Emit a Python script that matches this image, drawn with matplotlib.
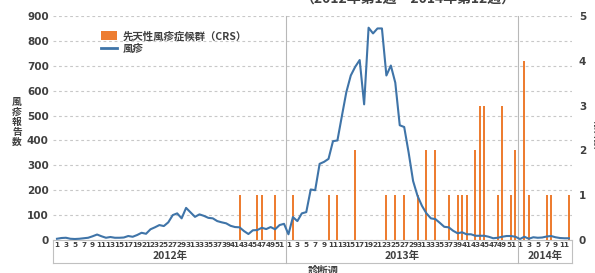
import matplotlib
matplotlib.use("Agg")
import matplotlib.pyplot as plt
from matplotlib.patches import Patch
from matplotlib.lines import Line2D

plt.rcParams['font.family'] = ['Noto Sans CJK JP', 'DejaVu Sans']

# weekly data: 2012 w1-52, 2013 w1-52, 2014 w1-12
weeks_per_year = [52, 52, 12]
year_labels = ['2012年', '2013年', '2014年']

rubella = [
    # 2012
    5, 8, 9, 5, 4, 5, 7, 9, 15, 22, 15, 9, 12, 9, 9, 10, 16, 13, 20, 29,
    25, 43, 51, 60, 56, 71, 100, 107, 87, 129, 111, 93, 103, 97, 89, 87, 76, 71, 67, 57,
    52, 51, 36, 24, 39, 40, 49, 44, 52, 43, 60, 65,
    # 2013
    23, 92, 76, 107, 112, 203, 200, 306, 314, 326, 397, 400, 498, 594, 661, 696, 723, 545, 853, 830,
    850, 850, 661, 701, 632, 461, 454, 351, 237, 177, 137, 107, 87, 84, 69, 53, 51, 37, 27, 31,
    23, 23, 17, 17, 17, 13, 7, 9, 13, 16, 16, 13,
    # 2014
    4, 13, 5, 11, 9, 10, 14, 16, 11, 8, 7, 7,
]

# CRS reports: (year, week, count)
crs_year = [2012, 2012, 2012, 2012,
            2013, 2013, 2013, 2013, 2013, 2013, 2013, 2013, 2013, 2013, 2013,
            2013, 2013, 2013, 2013, 2013, 2013, 2013, 2013, 2013, 2013,
            2014, 2014, 2014, 2014, 2014]
crs_week = [42, 46, 47, 50,
            2, 10, 12, 16, 23, 25, 27, 30, 32, 34, 37,
            39, 40, 41, 43, 44, 45, 48, 49, 51, 52,
            2, 3, 7, 8, 12]
crs_count = [1, 1, 1, 1,
             1, 1, 1, 2, 1, 1, 1, 1, 2, 2, 1,
             1, 1, 1, 2, 3, 3, 1, 3, 1, 2,
             4, 1, 1, 1, 1]

year_start = {2012: 0, 2013: 52, 2014: 104}
x_line = list(range(len(rubella)))
x_crs = [year_start[y] + w - 1 for y, w in zip(crs_year, crs_week)]

tick_pos = []
tick_lab = []
offset = 0
for n in weeks_per_year:
    for w in range(1, n + 1, 2):
        tick_pos.append(offset + w - 1)
        tick_lab.append(str(w))
    offset += n

text_col = '#404040'
num_font = {'family': 'DejaVu Sans', 'weight': 'bold'}

fig = plt.figure(figsize=(5.95, 2.73), dpi=100)
ax = fig.add_axes([53 / 595, 33 / 273, 519 / 595, 224 / 273])
ax2 = ax.twinx()
ax3 = ax.twinx()

xmin, xmax = -0.9, 115.7
for a in (ax, ax2, ax3):
    a.set_xlim(xmin, xmax)
    for s in a.spines.values():
        s.set_visible(False)
ax.patch.set_visible(False)

# left axis + grid
ax.set_ylim(0, 900)
ax.set_yticks(range(0, 901, 100))
ax.set_yticklabels([str(v) for v in range(0, 901, 100)], fontdict=num_font, fontsize=7.5, color=text_col)
ax.tick_params(axis='y', length=0, pad=3)
ax.yaxis.grid(True, linestyle=(0, (2.5, 2.5)), color='#c8c8c8', linewidth=0.8)
ax.set_axisbelow(True)
ax.spines['bottom'].set_visible(True)
ax.spines['bottom'].set_color('#c0c0c0')
ax.spines['bottom'].set_linewidth(0.8)

ax.set_xticks(tick_pos)
ax.set_xticklabels(tick_lab, fontdict=num_font, fontsize=5.2, color=text_col)
ax.tick_params(axis='x', length=0, pad=1.2)

# CRS bars on right axis
ax2.bar(x_crs, crs_count, width=0.45, color='#ED7D31', zorder=2)
ax2.set_ylim(0, 5)
ax2.set_yticks(range(0, 6))
ax2.set_yticklabels([str(v) for v in range(0, 6)], fontdict=num_font, fontsize=7.5, color=text_col)
ax2.tick_params(axis='y', length=0, pad=5)

# rubella line
ax3.plot(x_line, rubella, color='#3f74a8', linewidth=1.5, zorder=3)
ax3.set_ylim(0, 900)
ax3.set_yticks([])

# year boxes under the axis
box_y = -23 / 224
ax.plot([0, 1], [box_y, box_y], transform=ax.transAxes, color='#c0c0c0', lw=0.8, clip_on=False)
for xa in (0, 1):
    ax.plot([xa, xa], [box_y, 0], transform=ax.transAxes, color='#c0c0c0', lw=0.8, clip_on=False)
bounds = [xmin, 51.5, 103.5, xmax]
for b in bounds[1:3]:
    xf = (b - xmin) / (xmax - xmin)
    ax.plot([xf, xf], [box_y, 1], transform=ax.transAxes, color='#b8b8b8', lw=0.8, clip_on=False)
for i, lab in enumerate(year_labels):
    xc = ((bounds[i] + bounds[i + 1]) / 2 - xmin) / (xmax - xmin)
    ax.text(xc, -16 / 224, lab, transform=ax.transAxes, ha='center', va='center',
            fontsize=7.5, fontweight='bold', color=text_col)

# labels
fig.text(17 / 595, 1 - 122 / 273, '風\n疹\n報\n告\n数', ha='center', va='center',
         fontsize=7, fontweight='bold', color=text_col, linespacing=1.0)
fig.text(597 / 595, 1 - 125 / 273, 'CRS報告数', ha='center', va='center', rotation=-90,
         fontsize=7, fontweight='bold', color=text_col)
fig.text(323 / 595, 1 - 271 / 273, '診断週', ha='center', va='center',
         fontsize=7.5, fontweight='bold', color=text_col)
fig.text(408 / 595, 1 + 1 / 273, '（2012年第1週～2014年第12週）', ha='center', va='center',
         fontsize=10, fontweight='bold', color=text_col)

handles = [Patch(facecolor='#ED7D31'), Line2D([0], [0], color='#3f74a8', lw=2)]
fig.legend(handles, ['先天性風疹症候群（CRS）', '風疹'], loc='upper left',
           bbox_to_anchor=(101 / 595, 1 - 31 / 273), frameon=False,
           prop={'size': 7.5, 'weight': 'bold'}, handlelength=1.5, handleheight=0.9,
           handletextpad=0.6, labelspacing=0.3, borderpad=0, borderaxespad=0,
           labelcolor=text_col)

fig.savefig('out.png', dpi=100)
